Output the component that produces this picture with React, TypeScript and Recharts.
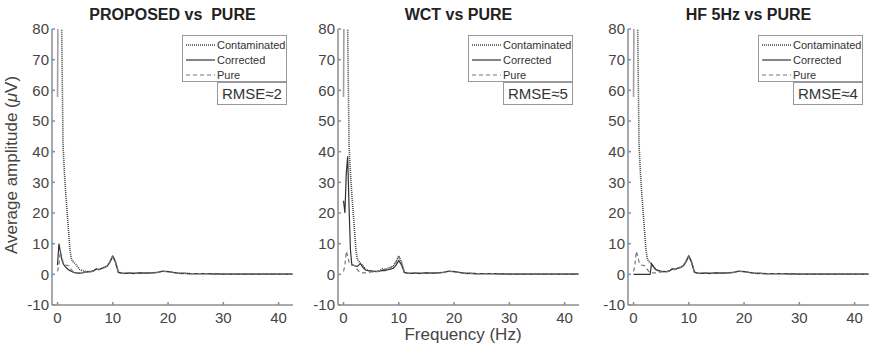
import React from "react";
import { LineChart, Line, XAxis, YAxis, Legend } from "recharts";

// frequency grid (Hz) shared by all panels
const freqHz = [
  0, 0.25, 0.5, 0.75, 1, 1.25, 1.5, 1.75, 2, 2.25, 2.5, 2.75, 3, 3.25, 3.5, 3.75, 4, 4.5, 5, 5.5, 6,
  6.5, 7, 7.5, 8, 8.5, 9, 9.5, 10, 10.5, 11, 11.5, 12, 13, 14, 15, 16, 17, 18, 19, 20, 21, 22, 23,
  24, 25, 26, 27, 28, 29, 30, 32, 34, 36, 38, 40, 42.5,
];

// contaminated EEG spectrum (same signal in every panel)
const contaminated = [
  58, 150, 130, 80, 42, 33, 26, 20, 14, 8, 5, 4.2, 3.8, 3.4, 2.8, 2.2, 1.6, 1.2, 1.0, 0.9, 0.9,
  1.1, 1.8, 1.6, 2.0, 2.3, 2.8, 4.2, 6.0, 4.0, 0.8, 0.4, 0.3, 0.4, 0.3, 0.5, 0.4, 0.5, 0.6, 1.0,
  0.9, 0.6, 0.3, 0.3, 0.2, 0.2, 0.2, 0.2, 0.15, 0.15, 0.1, 0.1, 0.1, 0.1, 0.1, 0.1, 0.1,
];

// ground-truth spectrum
const pure = [
  1, 3, 7.5, 6, 4, 3.2, 3, 2.9, 2.8, 2.2, 1.5, 1.0, 0.7, 0.6, 0.5, 0.5, 0.5, 0.6, 0.8, 0.8, 0.9,
  1.1, 1.6, 1.5, 1.9, 2.2, 2.6, 4.0, 5.8, 3.8, 0.7, 0.4, 0.3, 0.4, 0.3, 0.5, 0.4, 0.5, 0.6, 1.0,
  0.9, 0.6, 0.3, 0.3, 0.2, 0.2, 0.2, 0.2, 0.15, 0.15, 0.1, 0.1, 0.1, 0.1, 0.1, 0.1, 0.1,
];

const correctedProposed = [
  3, 10, 7.5, 5, 3.5, 2.8, 2.3, 1.9, 1.5, 1.2, 1.0, 0.8, 0.6, 0.5, 0.4, 0.4, 0.4, 0.5, 0.7, 0.8,
  0.9, 1.1, 1.7, 1.5, 1.9, 2.3, 2.7, 4.1, 5.9, 3.9, 0.7, 0.4, 0.3, 0.4, 0.3, 0.5, 0.4, 0.5, 0.6,
  1.0, 0.9, 0.6, 0.3, 0.3, 0.2, 0.2, 0.2, 0.2, 0.15, 0.15, 0.1, 0.1, 0.1, 0.1, 0.1, 0.1, 0.1,
];

const correctedWct = [
  24, 20, 33, 38.5, 22, 8, 3.2, 3.0, 2.8, 2.7, 2.6, 3.0, 3.5, 3.0, 2.3, 1.8, 1.4, 1.2, 1.1, 1.0,
  1.0, 1.0, 1.3, 1.2, 1.5, 1.7, 2.0, 3.0, 4.5, 3.0, 0.6, 0.4, 0.3, 0.4, 0.3, 0.5, 0.4, 0.5, 0.6,
  1.0, 0.9, 0.6, 0.3, 0.3, 0.2, 0.2, 0.2, 0.2, 0.15, 0.15, 0.1, 0.1, 0.1, 0.1, 0.1, 0.1, 0.1,
];

const correctedHf = [
  0, 0, 0, 0, 0, 0, 0, 0, 0, 0, 0, 0, 0, 3.4, 2.8, 2.2, 1.6, 1.2, 1.0, 0.9, 0.9, 1.1, 1.8, 1.6,
  2.0, 2.3, 2.8, 4.2, 6.0, 4.0, 0.8, 0.4, 0.3, 0.4, 0.3, 0.5, 0.4, 0.5, 0.6, 1.0, 0.9, 0.6, 0.3,
  0.3, 0.2, 0.2, 0.2, 0.2, 0.15, 0.15, 0.1, 0.1, 0.1, 0.1, 0.1, 0.1, 0.1,
];

const xTicks = [0, 10, 20, 30, 40];
const yTicks = [-10, 0, 10, 20, 30, 40, 50, 60, 70, 80];

const panels = [
  { title: "PROPOSED vs  PURE", corrected: correctedProposed, rmse: "RMSE≈2", left: 0 },
  { title: "WCT vs PURE", corrected: correctedWct, rmse: "RMSE≈5", left: 286 },
  { title: "HF 5Hz vs PURE", corrected: correctedHf, rmse: "RMSE≈4", left: 576 },
];

const FONT = "'Liberation Sans', Arial, Helvetica, sans-serif";
const AXIS = "#8c8c8c";

const legendItems = [
  { name: "Contaminated", dash: "1 1", color: "#444", width: 1.6 },
  { name: "Corrected", dash: "", color: "#333", width: 1.2 },
  { name: "Pure", dash: "4 3", color: "#777", width: 1.2 },
];

const LegendBox = () => (
  <div
    style={{
      width: 103,
      height: 44,
      border: "1px solid #999",
      background: "#fff",
      fontFamily: FONT,
      fontSize: 11,
      color: "#333",
      paddingTop: 1,
    }}
  >
    {legendItems.map((it) => (
      <div key={it.name} style={{ display: "flex", alignItems: "center", height: 15 }}>
        <svg width={32} height={10} style={{ marginLeft: 2 }}>
          <line x1={1} y1={5} x2={30} y2={5} stroke={it.color} strokeWidth={it.width} strokeDasharray={it.dash} />
        </svg>
        <span>{it.name}</span>
      </div>
    ))}
  </div>
);

type PanelProps = { title: string; corrected: number[]; rmse: string; left: number };

const Panel = ({ title, corrected, rmse, left }: PanelProps) => {
  const data = freqHz.map((f, i) => ({
    f,
    contaminated: contaminated[i],
    corrected: corrected[i],
    pure: pure[i],
  }));
  return (
    <div style={{ position: "absolute", left, top: 0, width: 300, height: 343 }}>
      <div
        style={{
          position: "absolute",
          left: 52,
          width: 241,
          top: 5,
          textAlign: "center",
          fontFamily: FONT,
          fontWeight: "bold",
          fontSize: 16,
          color: "#222",
          lineHeight: "20px",
          whiteSpace: "pre",
        }}
      >
        {title}
      </div>
      <LineChart width={300} height={343} data={data} margin={{ top: 29, right: 7, bottom: 0, left: 0 }}>
        <XAxis
          type="number"
          dataKey="f"
          domain={[-1, 42.6]}
          ticks={xTicks}
          allowDataOverflow
          height={38}
          stroke={AXIS}
          strokeWidth={1.5}
          tickSize={-3}
          tickMargin={10}
          tick={{ fill: "#444", fontSize: 15, fontFamily: FONT }}
        />
        <YAxis
          type="number"
          domain={[-10, 80]}
          ticks={yTicks}
          allowDataOverflow
          width={52}
          stroke={AXIS}
          strokeWidth={1.5}
          tickSize={-3}
          tickMargin={6}
          tick={{ fill: "#444", fontSize: 15, fontFamily: FONT }}
        />
        <Legend
          layout="vertical"
          align="center"
          verticalAlign="middle"
          content={() => <LegendBox />}
          wrapperStyle={{ left: 182, top: 35, width: 105, height: 46 }}
        />
        <Line type="linear" dataKey="contaminated" stroke="#444" strokeWidth={1.6} strokeDasharray="1 1" dot={false} isAnimationActive={false} />
        <Line type="linear" dataKey="corrected" stroke="#333" strokeWidth={1.2} dot={false} isAnimationActive={false} />
        <Line type="linear" dataKey="pure" stroke="#777" strokeWidth={1.2} strokeDasharray="4 3" dot={false} isAnimationActive={false} />
      </LineChart>
      <div
        style={{
          position: "absolute",
          left: 217,
          top: 82,
          width: 68,
          height: 21,
          border: "1px solid #999",
          background: "#fff",
          fontFamily: FONT,
          fontSize: 15,
          color: "#333",
          lineHeight: "21px",
          textAlign: "center",
        }}
      >
        {rmse}
      </div>
    </div>
  );
};

export default function App() {
  return (
    <div style={{ position: "absolute", left: 0, top: 0, width: 879, height: 343, background: "#fff" }}>
      {panels.map((p) => (
        <Panel key={p.title} {...p} />
      ))}
      <div
        style={{
          position: "absolute",
          left: 12 - 120,
          top: 165 - 11,
          width: 240,
          height: 22,
          lineHeight: "22px",
          textAlign: "center",
          transform: "rotate(-90deg)",
          fontFamily: FONT,
          fontSize: 17,
          color: "#444",
        }}
      >
        Average amplitude (<i>μ</i>V)
      </div>
      <div
        style={{
          position: "absolute",
          left: 463 - 100,
          top: 326,
          width: 200,
          height: 17,
          lineHeight: "17px",
          textAlign: "center",
          fontFamily: FONT,
          fontSize: 17,
          color: "#444",
        }}
      >
        Frequency (Hz)
      </div>
    </div>
  );
}
